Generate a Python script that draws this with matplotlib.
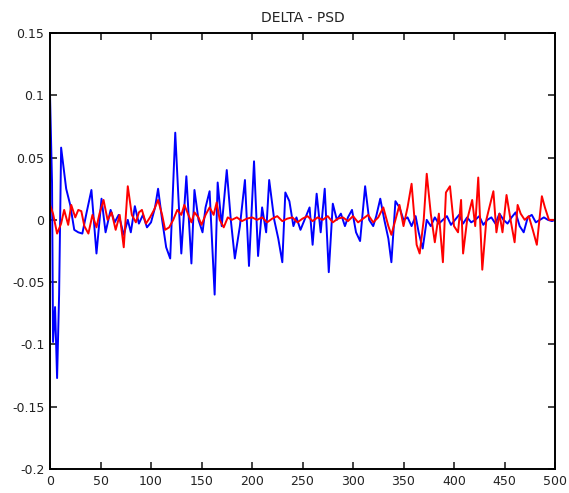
import matplotlib
matplotlib.use("Agg")
import matplotlib.pyplot as plt
from matplotlib.ticker import FuncFormatter, MultipleLocator

plt.rcParams['font.family'] = ['DejaVu Sans']
plt.rcParams['axes.unicode_minus'] = False

title = "DELTA - PSD"

blue_x = [0, 2, 3, 5, 7, 9, 11, 13, 16, 20, 24, 28, 32, 36, 41, 46, 51, 55, 60, 64,
          68, 73, 77, 80, 84, 88, 92, 96, 100, 104, 107, 111, 115, 119, 124, 127, 130,
          135, 140, 143, 147, 151, 154, 158, 163, 166, 170, 175, 179, 183, 188, 193,
          197, 202, 206, 210, 214, 217, 222, 226, 230, 233, 237, 241, 244, 248, 252,
          257, 260, 264, 268, 272, 276, 280, 284, 288, 292, 295, 299, 303, 307, 312,
          316, 320, 323, 327, 331, 335, 338, 342, 346, 350, 354, 358, 362, 365, 369,
          373, 377, 381, 385, 389, 393, 397, 401, 405, 409, 413, 417, 421, 425, 429,
          433, 437, 441, 445, 449, 453, 457, 461, 465, 469, 473, 477, 481, 485, 489,
          493, 497, 500]
blue_y = [0.100, 0.030, -0.098, -0.070, -0.127, -0.060, 0.058, 0.045, 0.025, 0.012,
          -0.008, -0.010, -0.011, 0.005, 0.024, -0.027, 0.017, -0.010, 0.008, -0.002,
          0.004, -0.012, 0.000, -0.010, 0.011, -0.003, 0.004, -0.006, -0.002, 0.010,
          0.025, 0.000, -0.022, -0.031, 0.070, 0.020, -0.027, 0.035, -0.035, 0.024,
          0.000, -0.010, 0.010, 0.023, -0.060, 0.030, -0.005, 0.040, 0.000, -0.031,
          -0.005, 0.032, -0.037, 0.047, -0.029, 0.010, -0.010, 0.032, 0.000, -0.015,
          -0.034, 0.022, 0.015, -0.005, 0.002, -0.008, 0.000, 0.010, -0.020, 0.021,
          -0.010, 0.025, -0.042, 0.013, 0.000, 0.005, -0.005, 0.002, 0.008, -0.010,
          -0.017, 0.027, 0.000, -0.005, 0.003, 0.017, 0.000, -0.015, -0.034, 0.015,
          0.010, 0.000, 0.002, -0.005, 0.003, -0.010, -0.023, 0.000, -0.005, 0.002,
          -0.003, 0.000, 0.003, -0.004, 0.000, 0.004, -0.003, 0.002, -0.002, 0.000,
          0.003, -0.004, 0.000, 0.002, -0.003, 0.005, 0.000, -0.003, 0.002, 0.006,
          -0.005, -0.010, 0.002, 0.004, -0.002, 0.000, 0.002, 0.000, -0.001, 0.000]

red_x = [0, 3, 7, 11, 14, 18, 21, 25, 28, 31, 34, 38, 42, 46, 49, 53, 57, 61, 65, 69,
         73, 77, 81, 85, 88, 91, 95, 99, 103, 107, 111, 114, 118, 122, 126, 130, 133,
         136, 140, 143, 147, 150, 154, 158, 162, 165, 168, 172, 176, 180, 185, 190,
         195, 200, 205, 210, 215, 220, 225, 230, 235, 240, 245, 250, 255, 260, 265,
         270, 275, 280, 285, 290, 295, 300, 305, 310, 315, 320, 325, 330, 335, 338,
         342, 346, 350, 354, 358, 363, 366, 370, 373, 377, 381, 385, 389, 392, 396,
         400, 404, 407, 409, 413, 418, 421, 424, 428, 432, 435, 439, 442, 445, 448,
         452, 456, 460, 463, 466, 470, 474, 478, 482, 487, 490, 494, 498]
red_y = [0.012, 0.005, -0.011, -0.003, 0.008, -0.004, 0.012, 0.002, 0.008, 0.007,
         -0.005, -0.011, 0.004, -0.006, 0.005, 0.016, 0.000, 0.006, -0.008, 0.004,
         -0.022, 0.027, 0.004, -0.002, 0.006, 0.008, -0.003, 0.002, 0.008, 0.016,
         0.004, -0.008, -0.006, 0.000, 0.008, 0.004, 0.012, 0.006, -0.002, 0.006,
         0.002, -0.004, 0.004, 0.010, 0.004, 0.014, 0.000, -0.006, 0.002, 0.000,
         0.002, -0.001, 0.001, 0.002, 0.000, 0.002, -0.002, 0.001, 0.003, -0.001,
         0.001, 0.002, -0.002, 0.001, 0.003, -0.001, 0.002, 0.000, 0.003, -0.002,
         0.001, 0.002, -0.001, 0.003, -0.002, 0.001, 0.004, -0.002, 0.002, 0.010,
         -0.005, -0.012, 0.000, 0.012, -0.005, 0.010, 0.029, -0.020, -0.027, 0.000,
         0.037, 0.005, -0.018, 0.005, -0.034, 0.022, 0.027, -0.005, -0.010, 0.016,
         -0.027, 0.000, 0.016, -0.005, 0.034, -0.040, 0.000, 0.010, 0.023, -0.010,
         0.005, -0.010, 0.020, 0.000, -0.018, 0.012, 0.005, 0.000, 0.003, -0.008,
         -0.020, 0.019, 0.010, 0.000, 0.000]

fig = plt.figure(figsize=(5.69, 4.93), dpi=100)
ax = fig.add_axes([0.0879, 0.0487, 0.8875, 0.8843])

ax.plot(blue_x, blue_y, color='#0000ff', lw=1.4)
ax.plot(red_x, red_y, color='#ff0000', lw=1.4)

ax.set_xlim(0, 500)
ax.set_ylim(-0.2, 0.15)
ax.xaxis.set_major_locator(MultipleLocator(50))
ax.yaxis.set_major_locator(MultipleLocator(0.05))
ax.yaxis.set_major_formatter(FuncFormatter(lambda v, p: '%g' % round(v, 4)))
ax.tick_params(direction='in', top=True, right=True, length=5, width=1.2,
               labelsize=9, pad=4, colors='#222222')
for s in ax.spines.values():
    s.set_linewidth(1.4)
ax.set_title(title, fontsize=10, pad=8, color='#222222')

fig.savefig('out.png', dpi=100)
